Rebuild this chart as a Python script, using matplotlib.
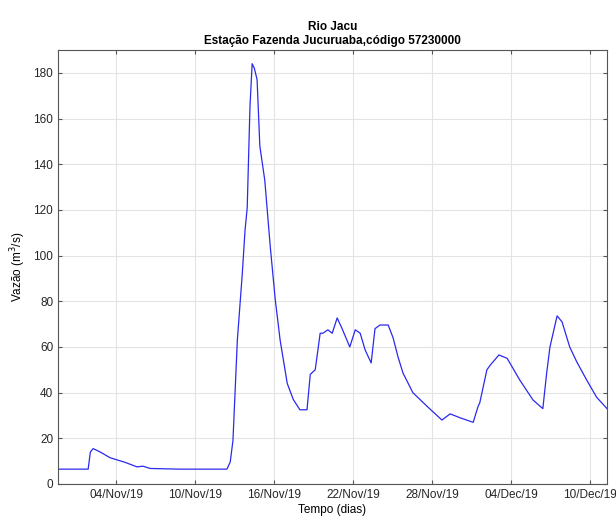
import matplotlib
matplotlib.use("Agg")
import matplotlib.pyplot as plt
import matplotlib.dates as mdates
import pandas as pd

plt.rcParams['font.family'] = ['Liberation Sans', 'DejaVu Sans']

times = [
    "2019-10-30 14:00", "2019-11-01 21:00", "2019-11-02 01:00", "2019-11-02 06:00",
    "2019-11-02 19:00", "2019-11-03 13:00", "2019-11-04 16:00", "2019-11-05 14:00",
    "2019-11-06 01:00", "2019-11-06 14:00", "2019-11-08 21:00", "2019-11-12 10:00",
    "2019-11-12 16:00", "2019-11-12 21:00", "2019-11-13 05:00", "2019-11-13 14:00",
    "2019-11-13 19:00", "2019-11-13 23:00", "2019-11-14 04:00", "2019-11-14 08:00",
    "2019-11-14 12:00", "2019-11-14 17:00", "2019-11-14 22:00", "2019-11-15 07:00",
    "2019-11-15 17:00", "2019-11-16 02:00", "2019-11-16 11:00", "2019-11-17 00:00",
    "2019-11-17 11:00", "2019-11-17 23:00", "2019-11-18 12:00", "2019-11-18 18:00",
    "2019-11-19 03:00", "2019-11-19 12:00", "2019-11-19 17:00", "2019-11-20 02:00",
    "2019-11-20 10:00", "2019-11-20 19:00", "2019-11-21 04:00", "2019-11-21 18:00",
    "2019-11-22 04:00", "2019-11-22 13:00", "2019-11-22 22:00", "2019-11-23 09:00",
    "2019-11-23 16:00", "2019-11-24 01:00", "2019-11-24 16:00", "2019-11-25 01:00",
    "2019-11-25 10:00", "2019-11-25 19:00", "2019-11-26 13:00", "2019-11-27 15:00",
    "2019-11-28 18:00", "2019-11-29 09:00", "2019-11-30 03:00", "2019-12-01 03:00",
    "2019-12-01 12:00", "2019-12-01 15:00", "2019-12-02 04:00", "2019-12-02 10:00",
    "2019-12-03 02:00", "2019-12-03 17:00", "2019-12-04 16:00", "2019-12-05 16:00",
    "2019-12-06 10:00", "2019-12-06 17:00", "2019-12-06 23:00", "2019-12-07 12:00",
    "2019-12-07 21:00", "2019-12-08 11:00", "2019-12-09 00:00", "2019-12-09 18:00",
    "2019-12-10 12:00", "2019-12-11 07:00",
]
vazao = [
    6.5, 6.5, 14.0, 15.5,
    14.0, 11.5, 9.5, 7.5,
    7.8, 6.8, 6.5, 6.5,
    9.6, 19.0, 63.0, 92.0,
    111.0, 121.0, 165.0, 184.0,
    182.0, 177.0, 148.0, 133.0,
    104.0, 81.0, 63.0, 44.0,
    37.0, 32.5, 32.5, 48.0,
    50.0, 66.0, 66.0, 67.5,
    66.0, 72.7, 68.0, 60.0,
    67.5, 66.0, 58.7, 53.0,
    68.0, 69.6, 69.6, 64.0,
    55.6, 48.6, 40.0, 34.0,
    28.0, 30.7, 29.0, 27.0,
    34.0, 35.5, 50.0, 52.0,
    56.5, 55.0, 45.5, 36.8,
    33.0, 48.6, 60.0, 73.6,
    71.0, 60.0, 53.4, 45.5,
    38.0, 33.0,
]
tick_dates = ["2019-11-04", "2019-11-10", "2019-11-16", "2019-11-22",
              "2019-11-28", "2019-12-04", "2019-12-10"]
y_ticks = [0, 20, 40, 60, 80, 100, 120, 140, 160, 180]

t = pd.to_datetime(times)

fig = plt.figure(figsize=(6.16, 5.2), dpi=100)
ax = fig.add_axes([58/616, 36/520, (607-58)/616, (484-50)/520])
ax.plot(t, vazao, color='#2a2aee', lw=0.9)

ax.set_xlim(t[0], t[-1])
ax.set_ylim(0, 190)
ax.set_xticks(pd.to_datetime(tick_dates))
ax.xaxis.set_major_formatter(mdates.DateFormatter('%d/%b/%y'))
ax.set_yticks(y_ticks)
ax.grid(True, color='#e3e3e3', lw=0.8)
ax.set_axisbelow(True)
ax.tick_params(direction='in', top=True, right=True, labelsize=8.5, length=3,
               color='#555555', labelcolor='#262626')
for s in ax.spines.values():
    s.set_color('#555555')
    s.set_linewidth(0.8)

ax.set_xlabel('Tempo (dias)', fontsize=8.5, labelpad=2)
ax.set_ylabel('Vazão (m$^3$/s)', fontsize=8.5, labelpad=4)
ax.set_title('Rio Jacu\nEstação Fazenda Jucuruaba,código 57230000',
             fontsize=8.5, fontweight='bold', pad=4, linespacing=1.3)

fig.savefig('out.png', dpi=100)
